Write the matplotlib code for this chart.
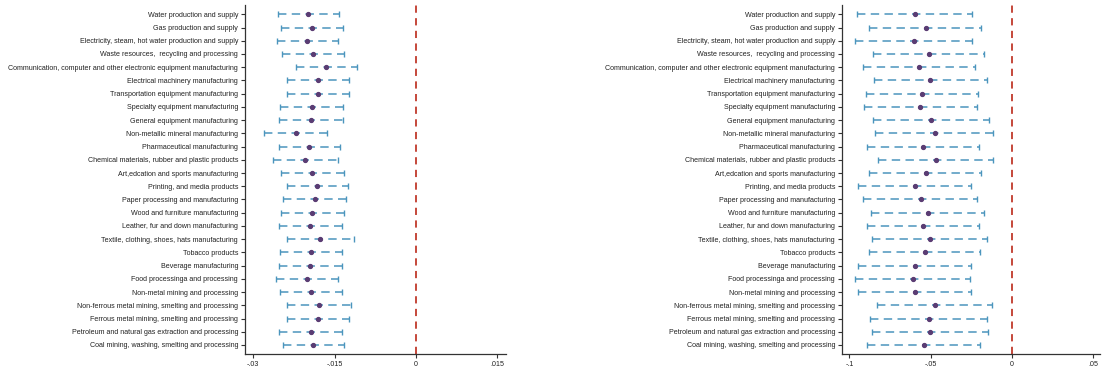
import numpy as np
import matplotlib
matplotlib.use('Agg')
import matplotlib.pyplot as plt

plt.rcParams['font.family'] = ['Liberation Sans', 'DejaVu Sans']

industries = [
    'Water production and supply',
    'Gas production and supply',
    'Electricity, steam, hot water production and supply',
    'Waste resources,  recycling and processing',
    'Communication, computer and other electronic equipment manufacturing',
    'Electrical machinery manufacturing',
    'Transportation equipment manufacturing',
    'Specialty equipment manufacturing',
    'General equipment manufacturing',
    'Non-metallic mineral manufacturing',
    'Pharmaceutical manufacturing',
    'Chemical materials, rubber and plastic products',
    'Art,edcation and sports manufacturing',
    'Printing, and media products',
    'Paper processing and manufacturing',
    'Wood and furniture manufacturing',
    'Leather, fur and down manufacturing',
    'Textile, clothing, shoes, hats manufacturing',
    'Tobacco products',
    'Beverage manufacturing',
    'Food processinga and processing',
    'Non-metal mining and processing',
    'Non-ferrous metal mining, smelting and processing',
    'Ferrous metal mining, smelting and processing',
    'Petroleum and natural gas extraction and processing',
    'Coal mining, washing, smelting and processing',
]

# left model: point estimate with lower / upper bounds
coef_a = [-0.0199, -0.0192, -0.0200, -0.0190, -0.0165, -0.0181, -0.0181, -0.0192,
          -0.0194, -0.0221, -0.0197, -0.0204, -0.0191, -0.0182, -0.0187, -0.0191,
          -0.0195, -0.0177, -0.0193, -0.0195, -0.0201, -0.0193, -0.0178, -0.0181,
          -0.0194, -0.0189]
lo_a = [-0.0255, -0.0249, -0.0257, -0.0247, -0.0222, -0.0238, -0.0238, -0.0250,
        -0.0252, -0.0280, -0.0253, -0.0264, -0.0248, -0.0238, -0.0246, -0.0249,
        -0.0252, -0.0237, -0.0250, -0.0252, -0.0259, -0.0250, -0.0237, -0.0238,
        -0.0252, -0.0246]
hi_a = [-0.0142, -0.0135, -0.0143, -0.0133, -0.0108, -0.0124, -0.0124, -0.0135,
        -0.0135, -0.0164, -0.0140, -0.0144, -0.0133, -0.0125, -0.0129, -0.0133,
        -0.0137, -0.0114, -0.0136, -0.0137, -0.0143, -0.0136, -0.0119, -0.0124,
        -0.0137, -0.0132]

# right model
coef_b = [-0.0596, -0.0530, -0.0602, -0.0512, -0.0570, -0.0502, -0.0553, -0.0563,
          -0.0499, -0.0475, -0.0549, -0.0469, -0.0530, -0.0598, -0.0561, -0.0518,
          -0.0549, -0.0506, -0.0536, -0.0596, -0.0608, -0.0596, -0.0473, -0.0512,
          -0.0504, -0.0543]
lo_b = [-0.0952, -0.0878, -0.0964, -0.0857, -0.0915, -0.0849, -0.0900, -0.0911,
        -0.0857, -0.0841, -0.0894, -0.0826, -0.0878, -0.0949, -0.0915, -0.0867,
        -0.0894, -0.0859, -0.0882, -0.0948, -0.0964, -0.0946, -0.0832, -0.0872,
        -0.0861, -0.0894]
hi_b = [-0.0247, -0.0187, -0.0245, -0.0169, -0.0226, -0.0152, -0.0208, -0.0214,
        -0.0140, -0.0113, -0.0202, -0.0117, -0.0187, -0.0251, -0.0212, -0.0171,
        -0.0204, -0.0154, -0.0194, -0.0251, -0.0257, -0.0251, -0.0120, -0.0154,
        -0.0148, -0.0194]

ticks_a = [-0.03, -0.015, 0, 0.015]
ticklabels_a = ['-.03', '-.015', '0', '.015']
ticks_b = [-0.1, -0.05, 0, 0.05]
ticklabels_b = ['-.1', '-.05', '0', '.05']

CI_COLOR = '#4b95bd'
PT_COLOR = '#5a3c73'
REF_COLOR = '#c0392b'


def coef_panel(ax, coef, lo, hi, xlim, ticks, ticklabels):
    coef = np.array(coef)
    y = np.arange(len(industries))
    err = [coef - np.array(lo), np.array(hi) - coef]
    eb = ax.errorbar(coef, y, xerr=err, fmt='none', ecolor=CI_COLOR,
                     elinewidth=1.1, capsize=2.2, capthick=1.0, zorder=2)
    eb[-1][0].set_linestyle((0, (5.5, 3.5)))
    ax.plot(coef, y, 'o', color=PT_COLOR, ms=2.8, zorder=3)
    ax.axvline(0, color=REF_COLOR, lw=1.3, ls=(0, (4, 3)), zorder=1)

    ax.set_yticks(y)
    ax.set_yticklabels(industries, fontsize=5.1, color='#222222')
    ax.set_ylim(len(industries) - 0.32, -0.7)
    ax.set_xlim(*xlim)
    ax.set_xticks(ticks)
    ax.set_xticklabels(ticklabels, fontsize=5.1, color='#222222')

    ax.tick_params(axis='both', direction='out', length=3, width=0.8,
                   color='#333333', pad=2)
    for side in ('top', 'right'):
        ax.spines[side].set_visible(False)
    for side in ('left', 'bottom'):
        ax.spines[side].set_linewidth(0.9)
        ax.spines[side].set_color('#333333')


fig = plt.figure(figsize=(11.03, 3.74), dpi=100)
ax1 = fig.add_axes([0.2221, 0.0535, 0.2366, 0.9331])
ax2 = fig.add_axes([0.7634, 0.0535, 0.2339, 0.9331])

coef_panel(ax1, coef_a, lo_a, hi_a, (-0.03153, 0.0166), ticks_a, ticklabels_a)
coef_panel(ax2, coef_b, lo_b, hi_b, (-0.1046, 0.0544), ticks_b, ticklabels_b)

fig.savefig('out.png', dpi=100)
